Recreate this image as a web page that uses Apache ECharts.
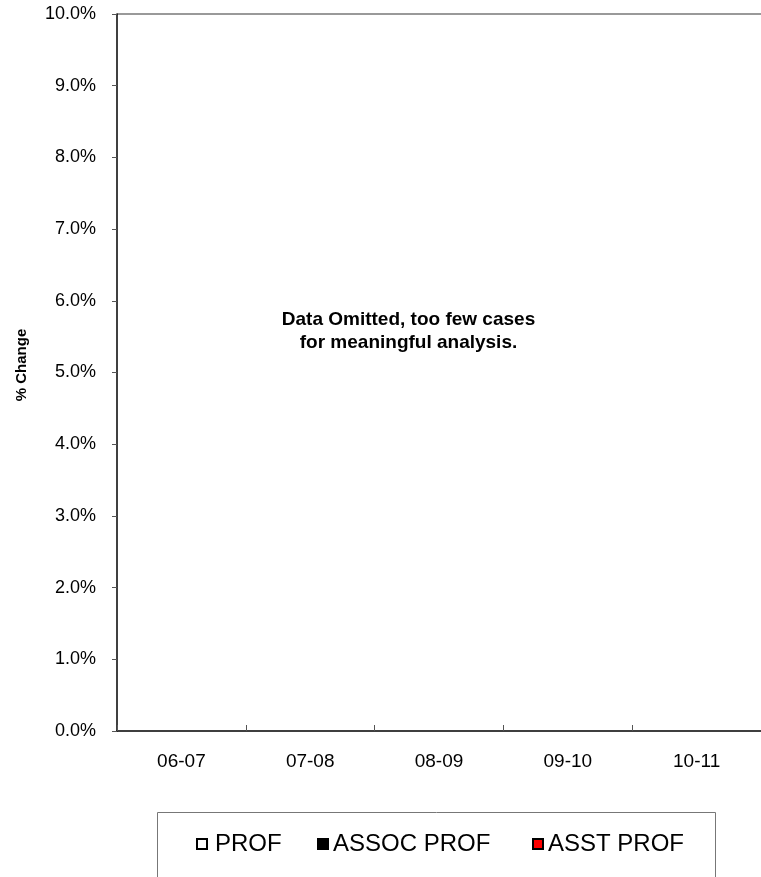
<!DOCTYPE html>
<html>
<head>
<meta charset="utf-8">
<script src="https://cdn.jsdelivr.net/npm/echarts@6/dist/echarts.min.js"></script>
<style>html,body{margin:0;padding:0;background:#fff}#c{width:761px;height:877px}</style>
</head>
<body>
<div id="c"></div>
<script>
const categories = ['06-07', '07-08', '08-09', '09-10', '10-11'];
const seriesNames = ['PROF', 'ASSOC PROF', 'ASST PROF'];
const profValues = [null, null, null, null, null];
const assocValues = [null, null, null, null, null];
const asstValues = [null, null, null, null, null];
const yTicks = [0, 1, 2, 3, 4, 5, 6, 7, 8, 9, 10];

const FONT = '"Liberation Sans", Arial, sans-serif';
const chart = echarts.init(document.getElementById('c'), null, {renderer: 'canvas'});
const splitColors = yTicks.map((t, i) => i === yTicks.length - 1 ? '#999' : 'rgba(0,0,0,0)');

function legendFor(name, left, pad) {
  return {
    data: [name], left: left, top: 832, padding: 0, itemWidth: 10, itemHeight: 10,
    icon: 'rect', itemGap: 0, selectedMode: false,
    textStyle: {fontFamily: FONT, fontSize: 24, color: '#000', padding: [0, 0, 0, pad]}
  };
}

chart.setOption({
  animation: false,
  backgroundColor: '#fff',
  grid: {left: 117, right: 0, top: 14, bottom: 146, containLabel: false},
  legend: [legendFor(seriesNames[0], 196, 3), legendFor(seriesNames[1], 317, 0), legendFor(seriesNames[2], 532, 0)],
  xAxis: {
    type: 'category', data: categories, boundaryGap: true,
    axisLine: {lineStyle: {color: '#000', width: 1.5}},
    axisTick: {show: true, inside: true, length: 6, lineStyle: {color: '#555', width: 1}},
    axisLabel: {fontFamily: FONT, fontSize: 19, color: '#000', margin: 21}
  },
  yAxis: {
    type: 'value', min: 0, max: 10, interval: 1,
    axisLine: {show: true, lineStyle: {color: '#000', width: 1.5}},
    axisTick: {show: true, length: 5, lineStyle: {color: '#555', width: 1}},
    axisLabel: {fontFamily: FONT, fontSize: 18, color: '#000', margin: 21,
      formatter: v => v.toFixed(1) + '%'},
    splitLine: {show: true, lineStyle: {color: splitColors, width: 2}}
  },
  series: [
    {name: seriesNames[0], type: 'bar', data: profValues,
     itemStyle: {color: '#fff', borderColor: '#000', borderWidth: 1.5}},
    {name: seriesNames[1], type: 'bar', data: assocValues,
     itemStyle: {color: '#000', borderColor: '#000', borderWidth: 1.5}},
    {name: seriesNames[2], type: 'bar', data: asstValues,
     itemStyle: {color: '#ff0000', borderColor: '#000', borderWidth: 1.5}}
  ],
  graphic: [
    {type: 'text', x: 408.5, y: 331.5,
     style: {text: 'Data Omitted, too few cases\nfor meaningful analysis.',
       font: 'bold 19px ' + FONT, fill: '#000', textAlign: 'center', textVerticalAlign: 'middle', lineHeight: 23}},
    {type: 'text', x: 21.5, y: 365, rotation: Math.PI / 2,
     style: {text: '% Change', font: 'bold 15px ' + FONT, fill: '#000', textAlign: 'center', textVerticalAlign: 'middle'}},
    {type: 'rect', shape: {x: 157.5, y: 812.5, width: 558, height: 100},
     style: {fill: 'none', stroke: '#777', lineWidth: 1}, z: -1}
  ]
});
</script>
</body>
</html>
